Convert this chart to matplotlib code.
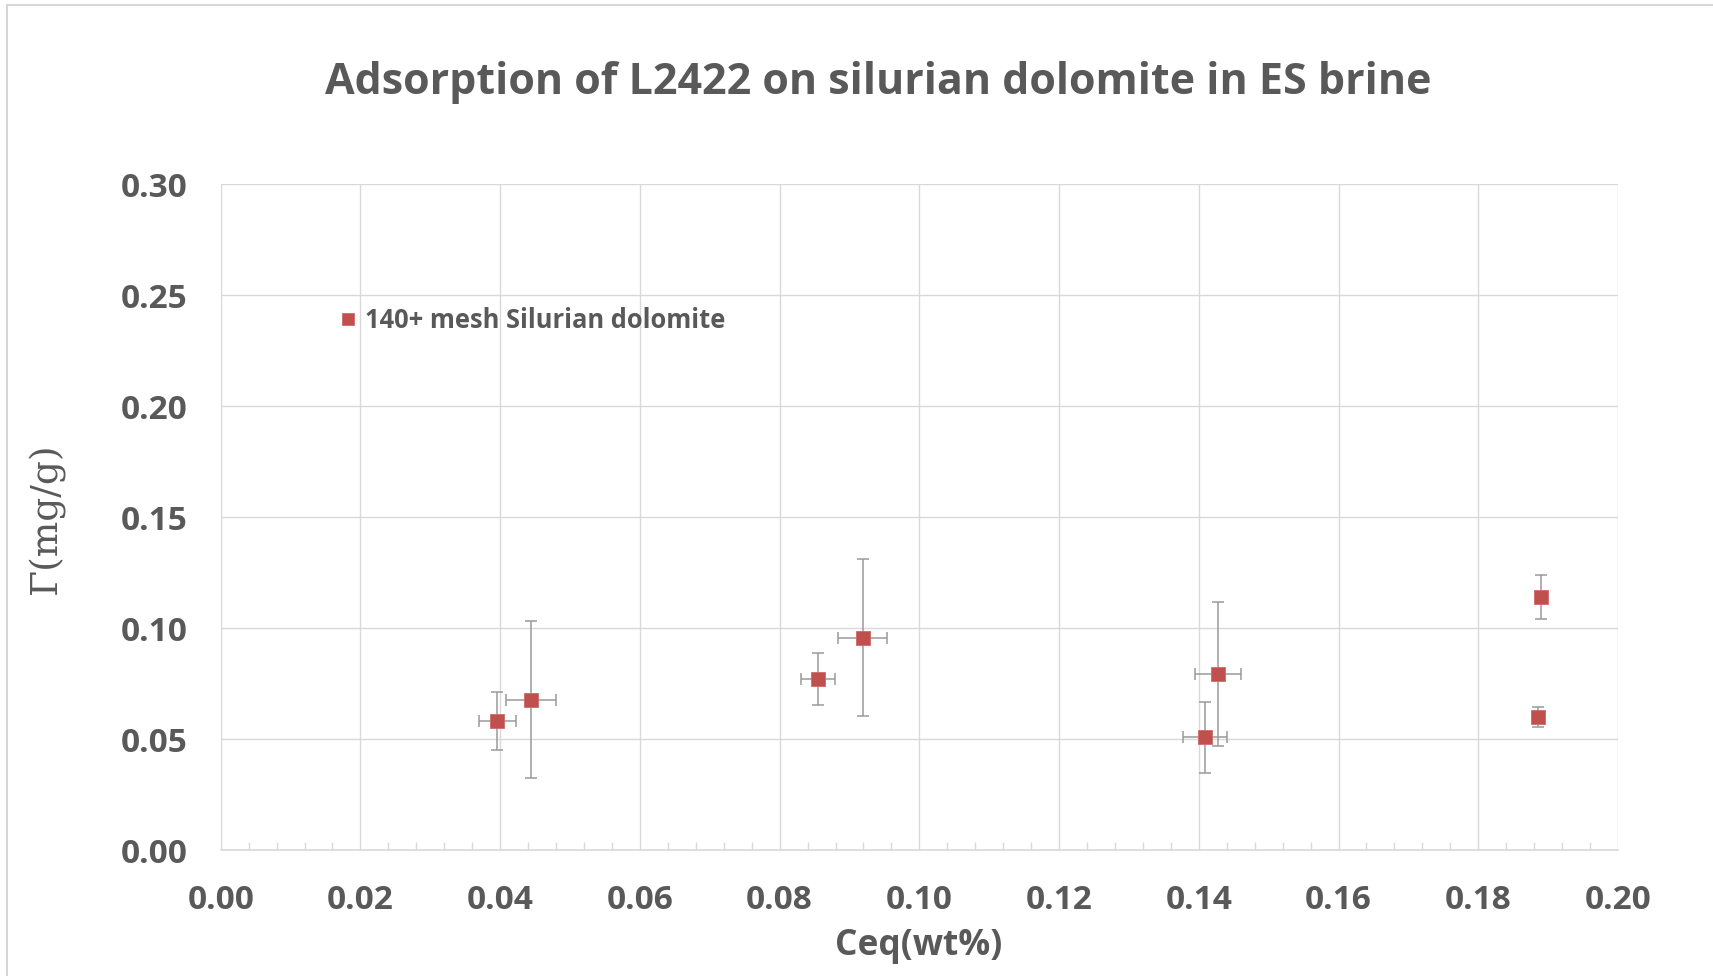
import matplotlib
matplotlib.use("Agg")
import matplotlib.pyplot as plt
import numpy as np
from matplotlib.patches import Rectangle
from matplotlib.ticker import MultipleLocator

ceq = [0.0396, 0.0444, 0.0855, 0.0919, 0.1409, 0.1427, 0.1890, 0.1886]
gamma = [0.0582, 0.0678, 0.0772, 0.0958, 0.0509, 0.0794, 0.1142, 0.0602]
ceq_err = [0.0026, 0.0036, 0.0024, 0.0035, 0.0032, 0.0033, 0.0003, 0.0002]
gamma_err = [0.0130, 0.0353, 0.0117, 0.0354, 0.0161, 0.0325, 0.0098, 0.0045]

series_label = "140+ mesh Silurian dolomite"
title = "Adsorption of L2422 on silurian dolomite in ES brine"
xlabel = "Ceq(wt%)"
ylabel = "\u0393(mg/g)"

txt = "#595959"
red = "#C0504D"
grid = "#D9D9D9"
font = "Open Sans"

W, H = 1713, 976
fig = plt.figure(figsize=(W / 100, H / 100), dpi=100)

# chart area border (cut off at right and bottom)
fig.patches.append(Rectangle((7 / W, -0.1), 1.2, 1 - 5 / H + 0.1, transform=fig.transFigure,
                             fill=False, edgecolor="#D0D0D0", linewidth=1.2))

x0, x1, y0, y1 = 220.7, 1618, 184.3, 850.3
ax = fig.add_axes([x0 / W, 1 - y1 / H, (x1 - x0) / W, (y1 - y0) / H])

ax.errorbar(ceq, gamma, xerr=ceq_err, yerr=gamma_err, fmt="none", ecolor="#9A9A9A",
            elinewidth=1.1, capsize=4, capthick=1.1, zorder=3)
ax.plot(ceq, gamma, "s", color=red, markersize=10, markeredgecolor="#D06A67",
        markeredgewidth=0.6, label=series_label, zorder=4, linestyle="none")

ax.set_xlim(0, 0.20)
ax.set_ylim(0, 0.30)
ax.xaxis.set_major_locator(MultipleLocator(0.02))
ax.xaxis.set_minor_locator(MultipleLocator(0.004))
ax.yaxis.set_major_locator(MultipleLocator(0.05))
ax.xaxis.set_major_formatter(lambda v, p: f"{v:.2f}")
ax.yaxis.set_major_formatter(lambda v, p: f"{v:.2f}")

ax.grid(True, which="major", color=grid, linewidth=1.0)
ax.set_axisbelow(True)
for s in ["top", "right", "left"]:
    ax.spines[s].set_visible(False)
ax.spines["bottom"].set_color(grid)
ax.spines["bottom"].set_linewidth(1.2)

ax.tick_params(axis="x", which="minor", direction="in", length=6, color=grid, width=1.0)
ax.tick_params(axis="x", which="major", direction="in", length=0, pad=24)
ax.tick_params(axis="y", which="major", length=0, pad=24)
for lab in ax.get_xticklabels() + ax.get_yticklabels():
    lab.set_fontfamily(font)
    lab.set_fontweight("bold")
    lab.set_fontsize(24)
    lab.set_color(txt)

fig.text(878.5 / W, 1 - 83 / H, title, ha="center", va="center", fontsize=31,
         fontweight="bold", color=txt, family=font)
fig.text(919 / W, 1 - 946 / H, xlabel, ha="center", va="center", fontsize=25.5,
         fontweight="bold", color=txt, family=font)
fig.text(46 / W, 1 - 518 / H, ylabel, ha="center", va="center", rotation=90,
         fontsize=27, color=txt, family="DejaVu Serif")

leg = ax.legend(loc="center left", bbox_to_anchor=((338 - x0) / (x1 - x0), (y1 - 320.7) / (y1 - y0)),
                frameon=False, borderpad=0, borderaxespad=0, handlelength=0.8,
                handletextpad=0.25, markerscale=0.8,
                prop={"family": font, "weight": "bold", "size": 18.4})
for t in leg.get_texts():
    t.set_color(txt)

fig.savefig("out.png", dpi=100)
